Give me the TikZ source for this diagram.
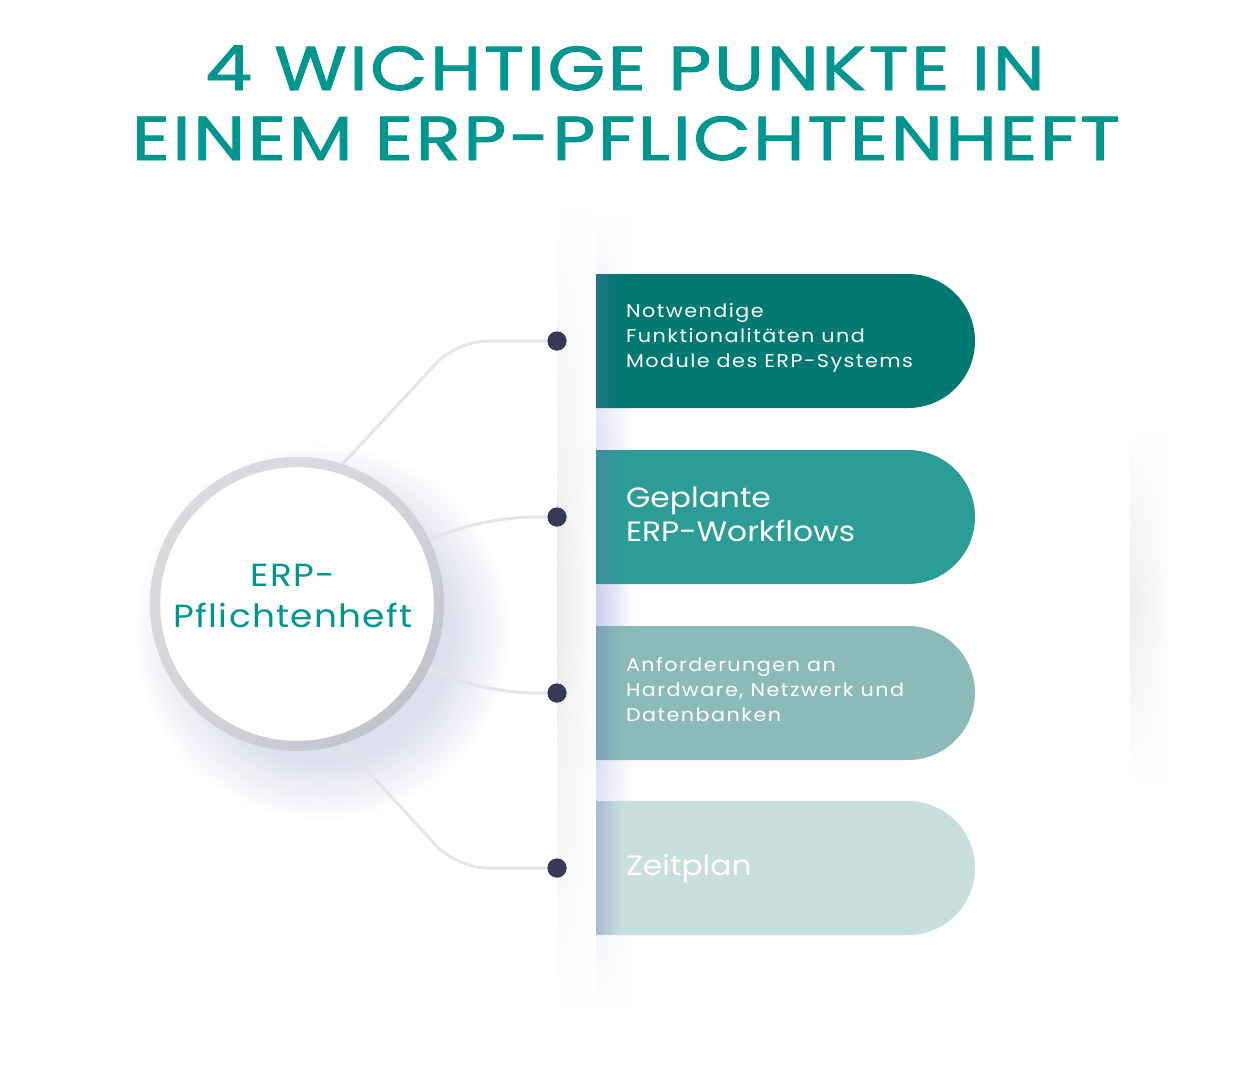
\documentclass[tikz,border=0pt]{standalone}
\usepackage{fontspec}
\setmainfont{Poppins}[FakeStretch=1.12]
\newfontfamily\headfont{Poppins}[FakeStretch=1.2, LetterSpace=4, FakeBold=1.5]
\newfontfamily\hubfont{Poppins}[FakeStretch=1.12, LetterSpace=4]
\newfontfamily\smallfont{Poppins}[FakeStretch=1.12, LetterSpace=8]
\usepackage{xcolor}
\usetikzlibrary{calc,fadings,shadings,shapes.misc}

\definecolor{headteal}{HTML}{00968F}
\definecolor{boxA}{HTML}{017872}
\definecolor{boxB}{HTML}{2C9C97}
\definecolor{boxC}{HTML}{8BBAB8}
\definecolor{boxD}{HTML}{C8DFDC}
\definecolor{dotblue}{HTML}{363A57}
\definecolor{linkgray}{HTML}{E5E5E7}
\definecolor{ringgray}{HTML}{DDDDE0}
\definecolor{ringdark}{HTML}{B9BBCA}
\definecolor{glowblue}{HTML}{DEE0EE}
\definecolor{barblue}{HTML}{C9CDEC}
\definecolor{edgeblue}{HTML}{5D6FB4}

\tikzfading[name=vfade, top color=transparent!100, bottom color=transparent!100, middle color=transparent!0]
\tikzfading[name=hfade, left color=transparent!0, right color=transparent!100]
\pgfdeclareradialshading{hubglow}{\pgfpoint{0bp}{0bp}}{color(0bp)=(glowblue); color(17bp)=(glowblue); color(25bp)=(white); color(50bp)=(white)}

\tikzset{
	heading/.style={text=headteal, font=\headfont\fontsize{62}{70}\selectfont, anchor=base},
	hub/.style={circle, draw=ringgray, line width=10pt, fill=white, minimum size=284pt, inner sep=0pt},
	hubtext/.style={text=headteal, font=\hubfont\fontsize{32}{41}\selectfont, align=center},
	topic/.style={rounded rectangle, rounded rectangle west arc=none, fill=#1,
			minimum width=379pt, minimum height=134pt, inner sep=0pt},
	small/.style={text=white, font=\smallfont\fontsize{18.5}{25}\selectfont, align=left, anchor=west, inner sep=0pt},
	large/.style={text=white, font=\fontsize{28}{34}\selectfont, align=left, anchor=west, inner sep=0pt},
	dot/.style={circle, fill=dotblue, minimum size=19pt, inner sep=0pt},
	link/.style={linkgray, line width=3pt, rounded corners=30pt}
}

\begin{document}
\begin{tikzpicture}[x=1pt, y=-1pt]
	\useasboundingbox (0,0) rectangle (1251,1080);
	\fill[white] (0,0) rectangle (1251,1080);

	\node[heading] (line1) at (625,90) {4 WICHTIGE PUNKTE IN};
	\node[heading] (line2) at (626,160) {EINEM ERP-PFLICHTENHEFT};

	% soft bands
	\shade[left color=black!8, right color=white, path fading=vfade] (557,203) rectangle (597,1012);
	\shade[left color=barblue, right color=white, path fading=vfade] (596,215) rectangle (634,1010);
	\shade[left color=black!7, right color=white, path fading=vfade] (1130,430) rectangle (1172,782);
	\shade[shading=hubglow] (322,632) circle (190);

	% topics
	\node[topic=boxA] (func) at (785.5,341) {};
	\node[topic=boxB] (flow) at (785.5,517) {};
	\node[topic=boxC] (hard) at (785.5,693) {};
	\node[topic=boxD] (plan) at (785.5,868) {};
	\foreach \t in {func,flow,hard,plan}
		\fill[edgeblue, opacity=0.3, path fading=hfade] (\t.north west) rectangle ([xshift=26pt]\t.south west);

	\node[small] at ([xshift=30pt, yshift=3pt]func.west) {Notwendige\\Funktionalitäten und\\Module des ERP-Systems};
	\node[large] at ([xshift=30pt, yshift=3pt]flow.west) {Geplante\\ERP-Workflows};
	\node[small] at ([xshift=30pt, yshift=3pt]hard.west) {Anforderungen an\\Hardware, Netzwerk und\\Datenbanken};
	\node[large] at ([xshift=30pt]plan.west) {Zeitplan};

	% hub and links
	\node[hub] (hub) at (297,604) {};
	\shade[upper left=ringgray, upper right=ringgray!80!ringdark, lower left=ringgray!80!ringdark,
		lower right=ringdark, even odd rule] (hub.center) circle (147) circle (137);
	\node[hubtext] at ([xshift=-4pt, yshift=8pt]hub.center) {ERP-\\Pflichtenheft};

	\foreach \i/\y in {1/341,2/517,3/693,4/868}
		\node[dot] (d\i) at (557,\y) {};

	\draw[link] (hub.72) -- ($(d1)+(-100,0)$) -- (d1);
	\draw[link, rounded corners=40pt] (hub.26) -- ($(d2)+(-65,0)$) -- (d2);
	\draw[link, rounded corners=40pt] (hub.-26) -- ($(d3)+(-65,0)$) -- (d3);
	\draw[link] (hub.-72) -- ($(d4)+(-100,0)$) -- (d4);
	\foreach \i in {1,...,4}
		\node[dot] at (d\i) {};
\end{tikzpicture}
\end{document}
